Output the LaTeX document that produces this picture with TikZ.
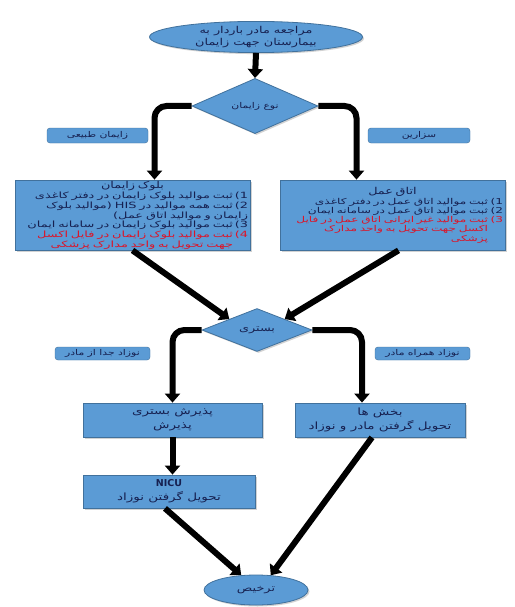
\documentclass[tikz,border=0pt]{standalone}
\usepackage{fontspec}
\newfontfamily\farsi[Script=Arabic]{DejaVu Sans}
\newfontfamily\farsiw[Script=Arabic,FakeStretch=1.35]{DejaVu Sans}
\newfontfamily\farsiww[Script=Arabic,FakeStretch=1.5]{DejaVu Sans}
\TeXXeTstate=1
\usetikzlibrary{arrows.meta,shapes.geometric,shadows}
\definecolor{fillblue}{RGB}{91,155,213}
\definecolor{edgeblue}{RGB}{65,113,156}
\definecolor{navy}{RGB}{22,32,80}
\definecolor{redtxt}{RGB}{220,20,40}
\newcommand{\num}[1]{\makebox[15pt][r]{#1}}
\newcommand{\gap}{\hspace{15pt}}
\begin{document}
\begin{tikzpicture}[x=1pt,y=-1pt,
  shd/.style={drop shadow={opacity=0.35,shadow xshift=1.5pt,shadow yshift=-1.5pt}},
  blk/.style={draw=edgeblue,fill=fillblue,line width=0.8pt,shd,text=navy,inner sep=0pt},
  oval/.style={blk,ellipse},
  dia/.style={blk,diamond},
  procbox/.style={blk,rectangle,font=\farsiww\fontsize{8.6}{8.6}\selectfont},
  smallbox/.style={blk,rectangle,align=center,font=\farsiw\fontsize{10}{14}\selectfont},
  tag/.style={draw=edgeblue,fill=fillblue,rounded corners=3pt,text=navy,inner sep=0pt,
     font=\farsiw\fontsize{8}{9}\selectfont},
  flow/.style={line width=6pt,-{Triangle[width=15pt,length=9pt]}},
  elbow/.style={flow,rounded corners=12pt}]
\fill[white] (0,0) rectangle (514,607);
\useasboundingbox (0,0) rectangle (514,607);

\node[oval,minimum width=213pt,minimum height=29pt,font=\farsiw\fontsize{9.5}{12.5}\selectfont,align=center]
  (start) at (256,37) {\beginR مراجعه مادر باردار به\endR\\\beginR بیمارستان جهت زایمان\endR};
\node[dia,minimum width=126pt,minimum height=42pt,font=\farsiw\fontsize{8}{9}\selectfont]
  (d1) at (255,106) {\beginR نوع زایمان\endR};
\node[tag,minimum width=101pt,minimum height=15pt] (t1) at (97.5,135.5) {\beginR زایمان طبیعی\endR};
\node[tag,minimum width=102pt,minimum height=15pt] (t2) at (419,135.5) {\beginR سزارین\endR};

\node[procbox,minimum width=235pt,minimum height=70pt,text width=231pt,align=right]
  (bz) at (132.5,215) {\makebox[231pt][c]{\farsiw\fontsize{9.5}{10}\selectfont\beginR بلوک زایمان\endR}\\[1pt]
  \beginR ثبت موالید بلوک زایمان در دفتر کاغذی\endR\num{1)}\\
  \beginR ثبت همه موالید در \beginL HIS\endL{} (موالید بلوک\endR\num{2)}\\
  \beginR زایمان و موالید اتاق عمل)\endR\gap\\
  \beginR ثبت موالید بلوک زایمان در سامانه ایمان\endR\num{3)}\\
  \textcolor{redtxt}{\beginR ثبت موالید بلوک زایمان در فایل اکسل\endR\num{4)}}\\
  \textcolor{redtxt}{\beginR جهت تحویل به واحد مدارک پزشکی\endR\gap}};

\node[procbox,minimum width=225pt,minimum height=70pt,text width=221pt,align=right,
      font=\farsiww\fontsize{8.1}{9.2}\selectfont]
  (am) at (392.5,215) {\makebox[221pt][c]{\farsiw\fontsize{9.5}{10}\selectfont\beginR اتاق عمل\endR}\\[1pt]
  \beginR ثبت موالید اتاق عمل در دفتر کاغذی\endR\num{1)}\\
  \beginR ثبت موالید اتاق عمل در سامانه ایمان\endR\num{2)}\\
  \textcolor{redtxt}{\beginR ثبت موالید غیر ایرانی اتاق عمل در فایل\endR\num{3)}}\\
  \textcolor{redtxt}{\beginR اکسل جهت تحویل به واحد مدارک\endR\gap}\\
  \textcolor{redtxt}{\beginR پزشکی\endR\gap}};

\node[dia,minimum width=110pt,minimum height=42pt,font=\farsiw\fontsize{9.5}{10}\selectfont]
  (d2) at (257,330) {\beginR بستری\endR};
\node[tag,minimum width=95pt,minimum height=13pt] (t3) at (102.5,353.5) {\beginR نوزاد جدا از مادر\endR};
\node[tag,minimum width=95pt,minimum height=13pt] (t4) at (422.5,353.5) {\beginR نوزاد همراه مادر\endR};

\node[smallbox,minimum width=179pt,minimum height=34pt]
  (pz) at (172.5,420) {\beginR پذیرش بستری\endR\\\beginR پذیرش\endR};
\node[smallbox,minimum width=170pt,minimum height=34pt]
  (bk) at (380,420) {\beginR بخش ها\endR\\\beginR تحویل گرفتن مادر و نوزاد\endR};
\node[smallbox,minimum width=172pt,minimum height=33pt]
  (nicu) at (169,491.5) {{\farsi\bfseries\fontsize{9.5}{10}\selectfont NICU}\\\beginR تحویل گرفتن نوزاد\endR};
\node[oval,minimum width=104pt,minimum height=30pt,font=\farsiw\fontsize{9.5}{10}\selectfont]
  (fin) at (256,590) {\beginR ترخیص\endR};

\draw[flow] (start.south) -- (d1.north);
\draw[elbow] (d1.west) -| ([xshift=22pt]bz.north);
\draw[elbow] (d1.east) -| ([xshift=-36pt]am.north);
\draw[flow] (bz.south) -- (d2.north west);
\draw[flow] ([xshift=6pt]am.south) -- (d2.north east);
\draw[elbow] (d2.west) -| (pz.north);
\draw[elbow] (d2.east) -| ([xshift=-18pt]bk.north);
\draw[flow] (pz.south) -- (pz.south |- nicu.north);
\draw[flow] ([xshift=-4pt]nicu.south) -- (fin.135);
\draw[flow] ([xshift=-8pt]bk.south) -- (fin.45);
\end{tikzpicture}
\end{document}
